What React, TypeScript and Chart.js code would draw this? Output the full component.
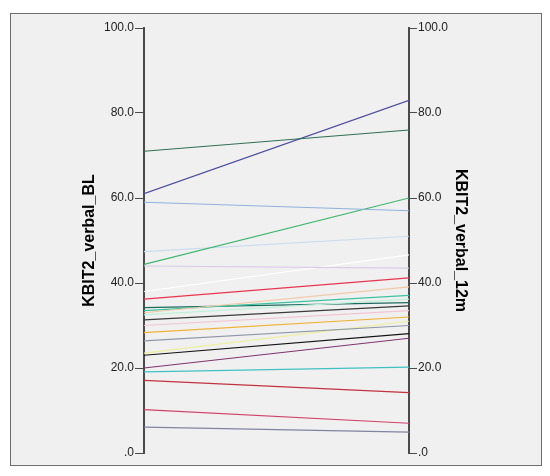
import React, { useEffect, useRef } from "react";
import { Chart, registerables } from "chart.js";

Chart.register(...registerables);

const leftLabel = "KBIT2_verbal_BL";
const rightLabel = "KBIT2_verbal_12m";

const baseline = [71, 61, 59, 44.4, 47.4, 44, 38, 36.2, 33, 33.5, 32.5, 34.2, 31.3, 30, 28.3, 26.4, 23.5, 23, 20, 19.1, 17.1, 10.2, 6.1];
const month12 = [76, 83, 57, 60, 51, 43.5, 46.6, 41.2, 39.1, 37.1, 36.2, 35.4, 34.6, 33.5, 32, 30, 31, 28.1, 27, 20.2, 14.2, 7, 4.9];
const lineColors = [
  "#2f6e55", "#4b4d9e", "#8db2dd", "#3db56e", "#c9dcef", "#d9cbe6", "#ffffff",
  "#e8354e", "#f1c9a4", "#3cc4a0", "#bff0dc", "#1c6a5c", "#3a3a3a", "#f2c4d2",
  "#f0b233", "#8e97a8", "#eeee9c", "#141414", "#7f3272", "#3fc1c4", "#c2323f",
  "#d0426e", "#8282a3",
];
const yTicks = [0, 20, 40, 60, 80, 100];

export default function App() {
  const ref = useRef<HTMLCanvasElement | null>(null);

  useEffect(() => {
    if (!ref.current) return;
    const datasets = baseline.map((v, i) => ({
      data: [
        { x: 0, y: v },
        { x: 1, y: month12[i] },
      ],
      borderColor: lineColors[i],
      borderWidth: 1.2,
      pointRadius: 0,
      fill: false,
      yAxisID: "y",
    }));
    const fmt = (v: any) => (Number(v) === 0 ? ".0" : Number(v).toFixed(1));
    const tickFont = { family: "Arial, Liberation Sans", size: 12 };
    const titleFont = { family: "Arial, Liberation Sans", size: 16, weight: "bold" as const };
    const chart = new Chart(ref.current, {
      type: "line",
      data: { datasets },
      options: {
        animation: false,
        responsive: false,
        maintainAspectRatio: false,
        layout: { padding: { top: 14, bottom: 12, left: 0, right: 0 } },
        plugins: { legend: { display: false }, tooltip: { enabled: false } },
        scales: {
          x: { type: "linear", min: 0, max: 1, display: false },
          y: {
            type: "linear",
            position: "left",
            min: 0,
            max: 100,
            afterBuildTicks: (s: any) => {
              s.ticks = yTicks.map((v) => ({ value: v }));
            },
            afterFit: (s: any) => {
              s.width = 133;
            },
            border: { display: true, color: "#4a4a4a", width: 2 },
            grid: { display: true, drawOnChartArea: false, drawTicks: true, tickLength: 9, color: "#4a4a4a", lineWidth: 1 },
            ticks: { padding: 1, color: "#222", font: tickFont, callback: fmt },
            title: {
              display: true,
              text: leftLabel,
              color: "#000",
              font: titleFont,
              padding: { top: 69, bottom: 0 },
            },
          },
          y2: {
            type: "linear",
            position: "right",
            min: 0,
            max: 100,
            afterBuildTicks: (s: any) => {
              s.ticks = yTicks.map((v) => ({ value: v }));
            },
            afterFit: (s: any) => {
              s.width = 132;
            },
            border: { display: true, color: "#4a4a4a", width: 2 },
            grid: { display: true, drawOnChartArea: false, drawTicks: true, tickLength: 8, color: "#4a4a4a", lineWidth: 1 },
            ticks: { padding: 1, color: "#222", font: tickFont, callback: fmt },
            title: {
              display: true,
              text: rightLabel,
              color: "#000",
              font: titleFont,
              padding: { top: 71, bottom: 0 },
            },
          },
        },
      },
    });
    return () => chart.destroy();
  }, []);

  return (
    <div style={{ paddingTop: 5, paddingLeft: 2 }}>
      <div
        style={{
          width: 532,
          height: 453,
          boxSizing: "border-box",
          border: "1px solid #6e6e6e",
          background: "#f0f0f0",
        }}
      >
        <canvas ref={ref} width={530} height={451} style={{ display: "block", width: 530, height: 451 }} />
      </div>
    </div>
  );
}
